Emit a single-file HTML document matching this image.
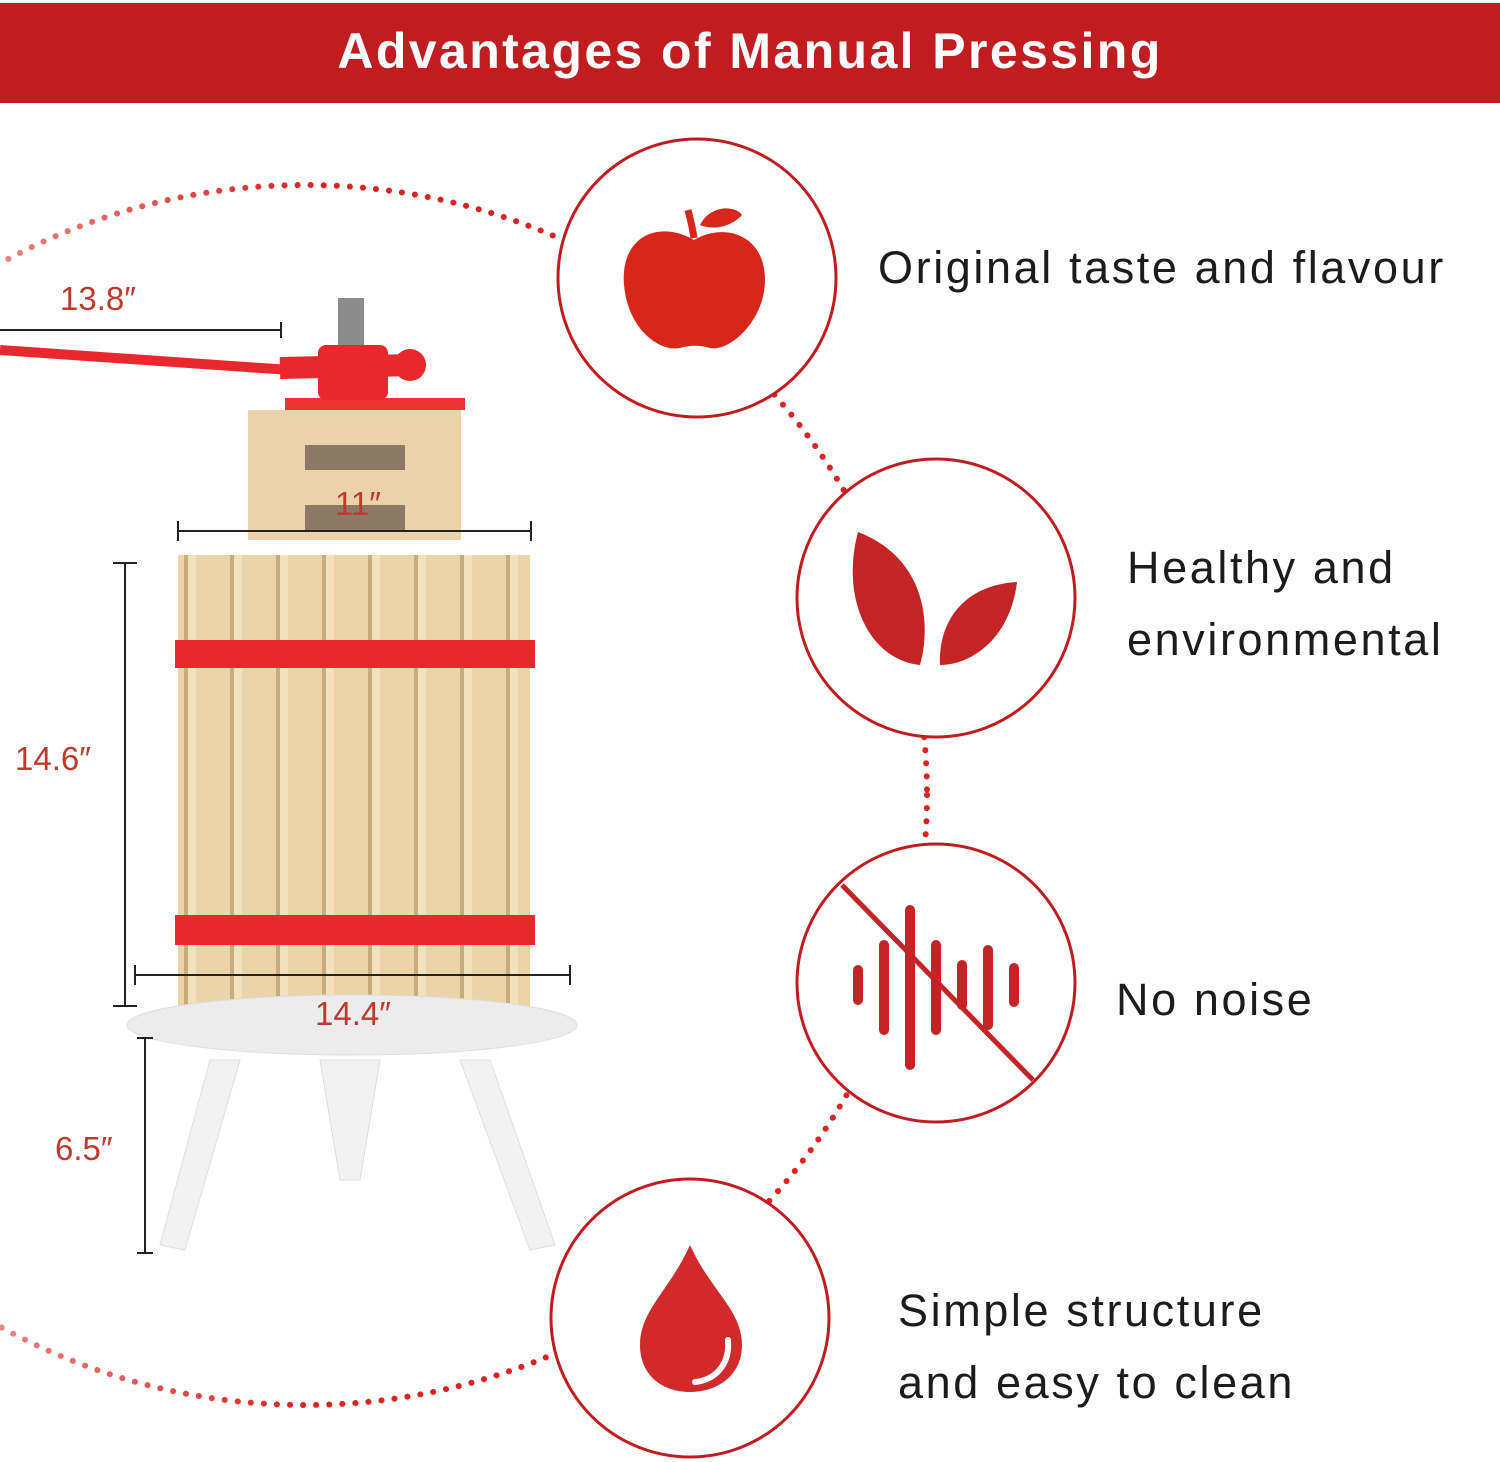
<!DOCTYPE html>
<html><head><meta charset="utf-8"><style>
html,body{margin:0;padding:0;background:#fff;}
body{width:1500px;height:1462px;position:relative;overflow:hidden;font-family:"Liberation Sans",sans-serif;}
.hdr{position:absolute;left:0;top:3px;width:1500px;height:100px;background:#c11d20;color:#fff;font-weight:bold;font-size:50px;text-align:center;line-height:96px;letter-spacing:2.4px;}
.t{position:absolute;color:#1c1c1c;font-size:45px;line-height:72px;letter-spacing:2.6px;}
.d{position:absolute;color:#c0392b;font-size:33px;}
</style></head><body>
<svg width="1500" height="1462" style="position:absolute;left:0;top:0">
<defs>
<linearGradient id="fade" x1="0" x2="1" y1="0" y2="0"><stop offset="0" stop-color="#d22" stop-opacity="0.1"/><stop offset="0.5" stop-color="#d22" stop-opacity="1"/></linearGradient>
<pattern id="wood" width="46" height="10" patternUnits="userSpaceOnUse"><rect width="46" height="10" fill="#ecd3a8"/><rect width="4" height="10" fill="#c9ab80"/><rect x="4" width="8" height="10" fill="#f3e0bd"/></pattern>
</defs>
<ellipse cx="305" cy="795" rx="622" ry="610" fill="none" stroke="url(#fade)" stroke-width="6" stroke-dasharray="0.1 13" stroke-linecap="round"/>
<!-- press -->
<rect x="285" y="398" width="180" height="12" fill="#e33"/>
<rect x="248" y="410" width="213" height="130" fill="#ead3ab"/>
<rect x="305" y="445" width="100" height="25" fill="#8a7a66"/>
<rect x="305" y="505" width="100" height="25" fill="#8a7a66"/>
<rect x="338" y="298" width="26" height="60" fill="#8c8c8c"/>
<rect x="178" y="555" width="352" height="480" fill="url(#wood)"/>
<rect x="175" y="640" width="360" height="28" fill="#e8282c"/>
<rect x="175" y="915" width="360" height="30" fill="#e8282c"/>
<ellipse cx="352" cy="1025" rx="225" ry="30" fill="#ececec" stroke="#ddd"/>
<polygon points="210,1060 240,1060 185,1250 160,1245" fill="#f2f2f2" stroke="#ddd"/>
<polygon points="460,1060 490,1060 555,1245 530,1250" fill="#f2f2f2" stroke="#ddd"/>
<polygon points="320,1060 380,1060 360,1180 340,1180" fill="#f2f2f2" stroke="#ddd"/>
<line x1="0" y1="350" x2="290" y2="370" stroke="#e8282c" stroke-width="10"/>
<rect x="318" y="345" width="70" height="55" rx="8" fill="#e8282c"/>
<line x1="280" y1="368" x2="415" y2="365" stroke="#e8282c" stroke-width="22"/>
<circle cx="410" cy="365" r="16" fill="#e8282c"/>
<!-- dims -->
<g stroke="#222" stroke-width="2">
<line x1="0" y1="330" x2="281" y2="330"/><line x1="281" y1="322" x2="281" y2="338"/>
<line x1="178" y1="531" x2="531" y2="531"/><line x1="178" y1="521" x2="178" y2="541"/><line x1="531" y1="521" x2="531" y2="541"/>
<line x1="125" y1="563" x2="125" y2="1006"/><line x1="113" y1="563" x2="137" y2="563"/><line x1="113" y1="1006" x2="137" y2="1006"/>
<line x1="135" y1="975" x2="570" y2="975"/><line x1="135" y1="965" x2="135" y2="985"/><line x1="570" y1="965" x2="570" y2="985"/>
<line x1="145" y1="1038" x2="145" y2="1253"/><line x1="137" y1="1038" x2="153" y2="1038"/><line x1="137" y1="1253" x2="153" y2="1253"/>
</g>
<!-- circles -->
<g fill="#fff" stroke="#c11d20" stroke-width="3">
<circle cx="697" cy="278" r="139"/><circle cx="936" cy="598" r="139"/><circle cx="936" cy="983" r="139"/><circle cx="690" cy="1318" r="139"/>
</g>
<!-- apple -->
<path d="M694 240 C660 220 620 235 624 285 C628 330 660 352 680 348 C690 345 700 345 710 348 C730 352 765 320 765 280 C765 235 725 222 694 240Z" fill="#d8261a"/>
<path d="M694 238 C692 225 690 218 688 210" stroke="#d8261a" stroke-width="7" fill="none"/>
<path d="M700 225 C710 205 735 205 742 215 C730 228 712 230 700 225Z" fill="#d8261a"/>
<!-- leaves -->
<path d="M858 532 C930 560 930 630 920 665 C870 660 840 600 858 532Z" fill="#c42426"/>
<path d="M1017 582 C1010 640 970 665 940 665 C938 620 965 585 1017 582Z" fill="#c42426"/>
<!-- sound -->
<g stroke="#c42426" stroke-width="10" stroke-linecap="round">
<line x1="858" y1="970" x2="858" y2="1000"/><line x1="884" y1="945" x2="884" y2="1030"/><line x1="910" y1="910" x2="910" y2="1065"/>
<line x1="936" y1="945" x2="936" y2="1030"/><line x1="962" y1="965" x2="962" y2="1005"/><line x1="988" y1="950" x2="988" y2="1025"/><line x1="1014" y1="968" x2="1014" y2="1002"/>
</g>
<line x1="842" y1="885" x2="1033" y2="1080" stroke="#c42426" stroke-width="5"/>
<!-- drop -->
<path d="M690 1245 C670 1290 640 1310 640 1345 C640 1375 662 1392 690 1392 C718 1392 742 1375 742 1345 C742 1310 710 1290 690 1245Z" fill="#d22a2a"/>
<path d="M728 1340 C730 1365 715 1380 695 1382" stroke="#fff" stroke-width="6" fill="none" stroke-linecap="round"/>
</svg>
<div class="hdr">Advantages of Manual Pressing</div>
<div class="t" style="left:878px;top:232px">Original taste and flavour</div>
<div class="t" style="left:1127px;top:532px">Healthy and<br>environmental</div>
<div class="t" style="left:1116px;top:964px">No noise</div>
<div class="t" style="left:898px;top:1275px">Simple structure<br>and easy to clean</div>
<div class="d" style="left:60px;top:280px">13.8″</div>
<div class="d" style="left:335px;top:485px">11″</div>
<div class="d" style="left:15px;top:740px">14.6″</div>
<div class="d" style="left:315px;top:995px">14.4″</div>
<div class="d" style="left:55px;top:1130px">6.5″</div>
</body></html>
